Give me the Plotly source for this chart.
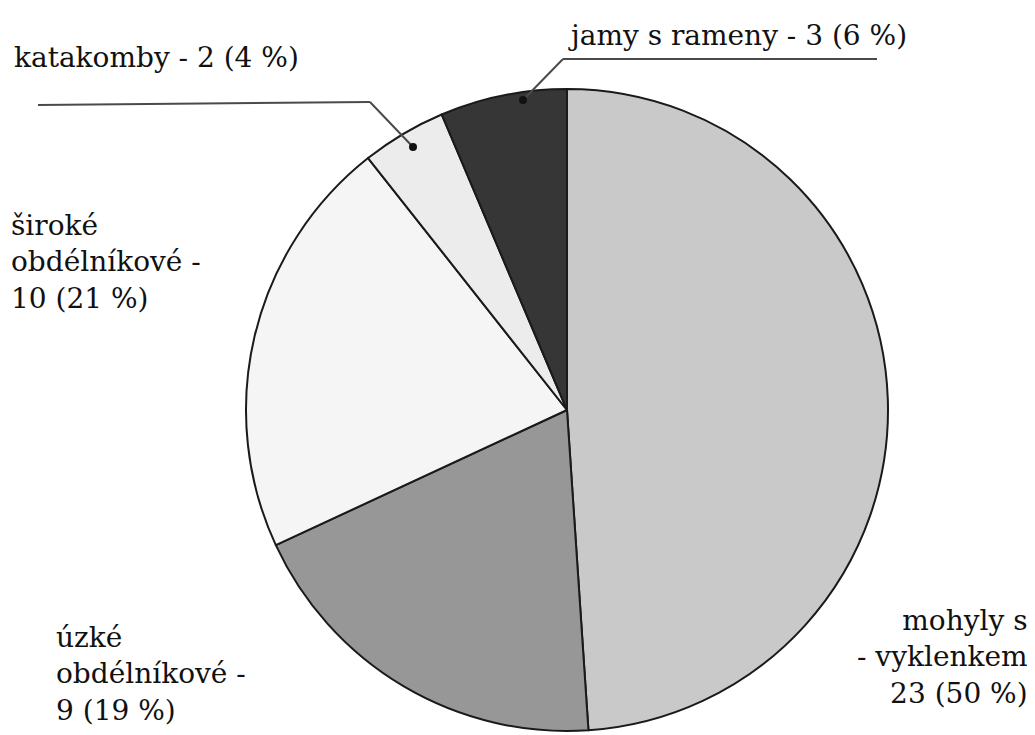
import plotly.graph_objects as go

# data (clockwise from 12 o'clock)
categories = ["mohyly s vyklenkem", "úzké obdélníkové", "široké obdélníkové", "katakomby", "jamy s rameny"]
counts = [23, 9, 10, 2, 3]
percents = [50, 19, 21, 4, 6]
colors = ["#c9c9c9", "#979797", "#f5f5f5", "#ececec", "#363636"]

# page body has an 8px margin, so the figure is a little smaller than the window
OFF = 8
W, H = 1035 - OFF, 735 - OFF
FONT = dict(family="DejaVu Serif", size=28, color="#111111")

def px(x):
    return (x - OFF) / W

def py(y):
    return 1 - (y - OFF) / H

fig = go.Figure()
cx, cy, r = 567, 410, 321
fig.add_trace(go.Pie(
    labels=categories, values=counts, sort=False, direction="clockwise", rotation=0,
    marker=dict(colors=colors, line=dict(color="#1a1a1a", width=2)),
    textinfo="none", hoverinfo="label+value", showlegend=False,
    domain=dict(x=[px(cx - r), px(cx + r)], y=[py(cy + r), py(cy - r)]),
))

# labels: (text, x, y, anchor)
labels = [
    (f"katakomby - {counts[3]} ({percents[3]} %)", 12, 57, "left"),
    (f"jamy s rameny - {counts[4]} ({percents[4]} %)", 566, 35, "left"),
    (f"široké<br>obdélníkové -<br>{counts[2]} ({percents[2]} %)", 9, 262, "left"),
    (f"úzké<br>obdélníkové -<br>{counts[1]} ({percents[1]} %)", 54, 674, "left"),
    (f"mohyly s<br>- vyklenkem<br>{counts[0]} ({percents[0]} %)", 1030, 657, "right"),
]
for txt, x, y, anc in labels:
    fig.add_annotation(text=txt, x=px(x), y=py(y), xref="paper", yref="paper",
                       xanchor=anc, yanchor="middle", align=anc, showarrow=False, font=FONT)

# leader lines
leaders = [
    [(38, 105), (370, 102), (413, 147)],
    [(877, 59), (563, 59), (523, 100)],
]
for pts in leaders:
    for (x0, y0), (x1, y1) in zip(pts[:-1], pts[1:]):
        fig.add_shape(type="line", xref="paper", yref="paper",
                      x0=px(x0), y0=py(y0), x1=px(x1), y1=py(y1),
                      line=dict(color="#4a4a4a", width=2))
    ex, ey = pts[-1]
    fig.add_shape(type="circle", xref="paper", yref="paper",
                  x0=px(ex - 4), y0=py(ey - 4), x1=px(ex + 4), y1=py(ey + 4),
                  fillcolor="#111111", line=dict(width=0))

fig.update_layout(width=W, height=H, margin=dict(l=0, r=0, t=0, b=0),
                  paper_bgcolor="white", plot_bgcolor="white")
fig.write_html("out.html")
